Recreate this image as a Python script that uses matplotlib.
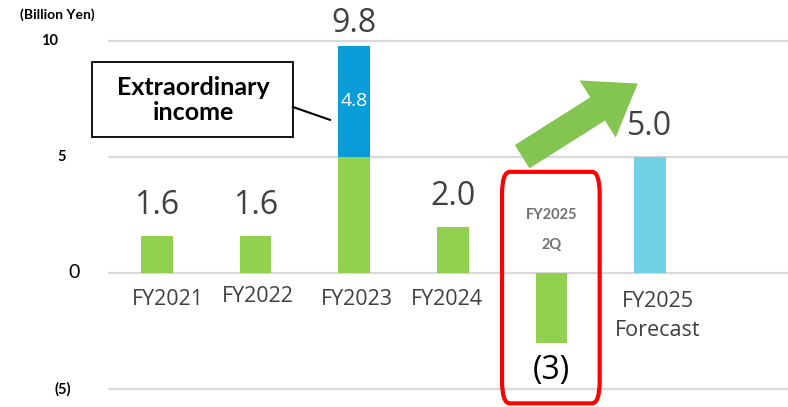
import matplotlib.pyplot as plt
from matplotlib.patches import FancyBboxPatch, FancyArrowPatch, Rectangle

# data
categories = ["FY2021", "FY2022", "FY2023", "FY2024", "FY2025\n2Q", "FY2025\nForecast"]
base_values = [1.6, 1.6, 5.0, 2.0, -3.0, 5.0]
extra_values = [0, 0, 4.8, 0, 0, 0]
value_labels = ["1.6", "1.6", "9.8", "2.0", "(3)", "5.0"]
yticks = [10, 5, 0, -5]
ytick_labels = ["10", "5", "0", "(5)"]

green = "#92d050"
blue = "#0a9bd9"
light_blue = "#70d0e6"
bar_colors = [green, green, green, green, green, light_blue]

fig = plt.figure(figsize=(7.88, 4.07), dpi=100)
ax = fig.add_axes([0, 0, 1, 1])
ax.set_xlim(-1.592, 6.40)
ax.set_ylim(-5.776, 11.767)
ax.axis("off")

# gridlines
ax.hlines(yticks, -0.5, 6.4, color="#d9d9d9", lw=1.6, zorder=0)

x = list(range(len(categories)))
ax.bar(x, base_values, width=0.32, color=bar_colors, zorder=2)
ax.bar(x, extra_values, width=0.32, bottom=base_values, color=blue, zorder=2)

# y tick labels
tick_x = [-1.085, -0.963, -0.842, -0.953]
for yv, lab, tx in zip(yticks, ytick_labels, tick_x):
    bold = lab != "0"
    ax.text(tx, yv, lab, ha="center", va="center", family="Lato",
            fontsize=10.5 if bold else 14, fontweight="bold" if bold else "normal",
            color="black")
ax.text(-1.014, 11.12, "(Billion Yen)", ha="center", va="center", family="Lato",
        fontsize=10, fontweight="bold")

# value labels
for i, lab in enumerate(value_labels):
    total = base_values[i] + extra_values[i]
    if total < 0:
        ax.annotate(lab, (i, total), xytext=(0, -8), textcoords="offset points",
                    ha="center", va="top", family="Open Sans", fontsize=23, color="black")
    else:
        gap = 4 if extra_values[i] else 10
        ax.annotate(lab, (i, total), xytext=(0, gap), textcoords="offset points",
                    ha="center", va="bottom", family="Open Sans", fontsize=23,
                    color="#404040")

# extraordinary income value inside blue bar
ax.text(2, base_values[2] + extra_values[2] / 2, "4.8", ha="center", va="center",
        family="Open Sans", fontsize=14, color="white", zorder=3)

# category labels
label_dx = [0.11, 0.02, 0.03, -0.06, 0, 0.08]
label_y = [-1.16, -1.03, -1.16, -1.16, 0, -1.85]
for i, cat in enumerate(categories):
    if i == 4:
        ax.text(i, 1.85, cat, ha="center", va="center", family="Lato", fontsize=10.5,
                fontweight="bold", color="#707070", linespacing=2.5)
    else:
        ax.text(i + label_dx[i], label_y[i], cat, ha="center", va="center",
                family="Open Sans", fontsize=15.5, color="#404040", linespacing=1.45)

# red highlight box
box = FancyBboxPatch((3.50, -5.62), 0.99, 9.98,
                     boxstyle="round,pad=0,rounding_size=0.08",
                     fc="none", ec="#ff0000", lw=3, zorder=4,
                     mutation_aspect=12)
ax.add_patch(box)

# green arrow
arrow = FancyArrowPatch((3.68, 4.95), (4.90, 8.23),
                        arrowstyle="simple,head_width=2.7,head_length=1.9,tail_width=1.1",
                        mutation_scale=18, color="#84c551", lw=0, zorder=3)
ax.add_patch(arrow)

# callout
ax.add_patch(Rectangle((-0.659, 5.862), 2.038, 3.233, fc="white", ec="black",
                       lw=1.3, zorder=3))
ax.plot([1.379, 1.755], [7.155, 6.6], color="black", lw=1.5, zorder=3)
ax.text(0.365, 7.46, "Extraordinary\nincome", ha="center", va="center",
        family="Lato", fontsize=18, fontweight="bold", linespacing=1.1, zorder=4)

fig.savefig("out.png", dpi=100)
